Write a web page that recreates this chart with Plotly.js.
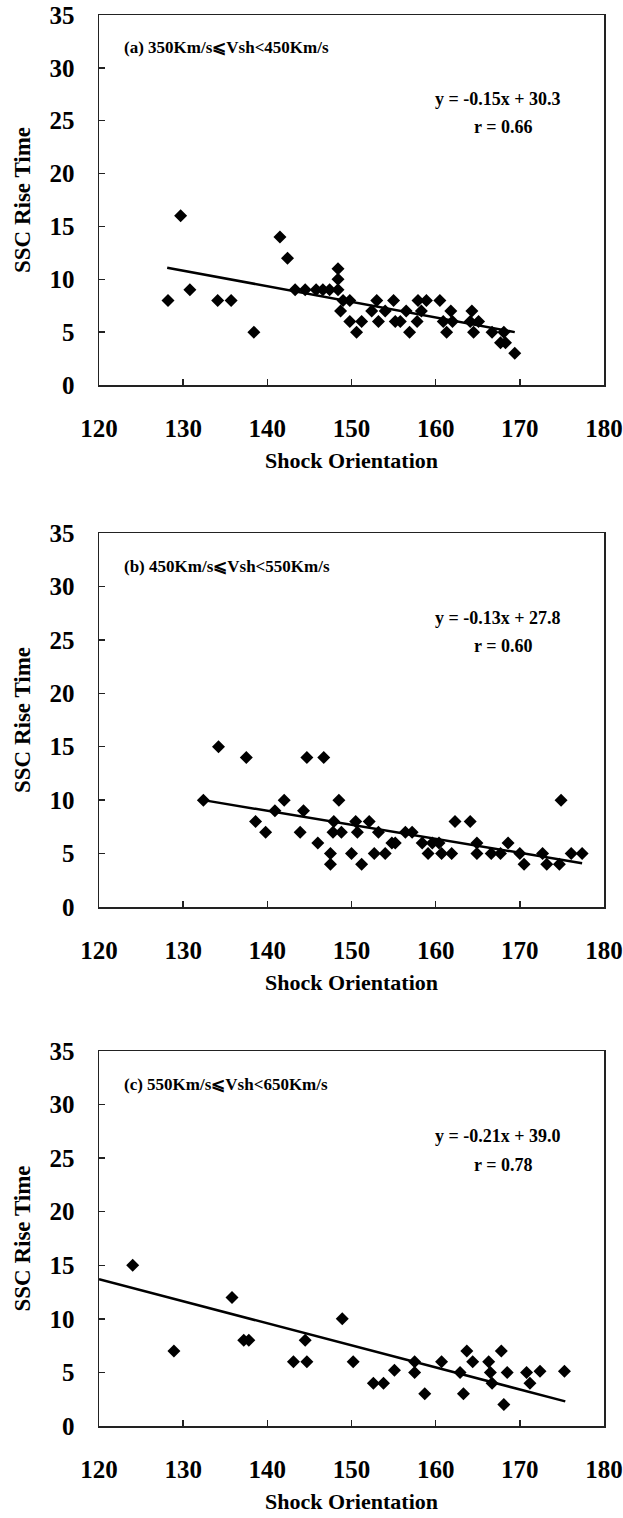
<!DOCTYPE html>
<html>
<head>
<meta charset="utf-8">
<script src="https://cdn.plot.ly/plotly-3.0.1.min.js"></script>
<style>html,body{margin:0;padding:0;background:#fff;}#chart{width:623px;height:1518px;}</style>
</head>
<body>
<div id="chart"></div>
<script>
// Panel (a) 350Km/s ≤ Vsh < 450Km/s
const aX = [128.2,129.7,130.8,134.1,135.7,138.4,141.5,142.4,143.3,144.5,145.8,146.6,147.4,148.4,148.4,148.4,148.7,149.0,149.8,149.8,150.6,151.2,152.4,153.0,153.2,154.0,155.0,155.2,155.8,156.5,156.9,157.8,157.9,158.3,158.9,160.5,160.9,161.3,161.8,162.0,164.1,164.3,164.5,165.1,166.7,167.7,168.1,168.3,169.4];
const aY = [8,16,9,8,8,5,14,12,9,9,9,9,9,11,10,9,7,8,8,6,5,6,7,8,6,7,8,6,6,7,5,6,8,7,8,8,6,5,7,6,6,7,5,6,5,4,5,4,3];
const aLineX = [128.1,169.4];
const aLineY = [11.1,5.0];

// Panel (b) 450Km/s ≤ Vsh < 550Km/s
const bX = [132.4,134.2,137.5,138.6,139.8,140.9,142.0,143.9,144.3,144.7,146.0,146.7,147.5,147.5,147.9,147.8,148.5,148.8,150.0,150.5,150.7,151.2,152.1,152.7,153.2,154.0,154.8,155.2,156.4,157.2,158.4,159.1,159.6,160.4,160.7,161.9,162.3,164.1,164.9,164.9,166.6,167.7,168.6,170.0,170.5,172.7,173.2,174.7,174.9,176.1,177.4];
const bY = [10,15,14,8,7,9,10,7,9,14,6,14,5,4,8,7,10,7,5,8,7,4,8,5,7,5,6,6,7,7,6,5,6,6,5,5,8,8,6,5,5,5,6,5,4,5,4,4,10,5,5];
const bLineX = [132.4,177.4];
const bLineY = [10.0,4.1];

// Panel (c) 550Km/s ≤ Vsh < 650Km/s
const cX = [124.0,128.9,135.8,137.2,137.8,143.1,144.5,144.7,148.9,150.2,152.6,153.8,155.1,157.5,157.5,158.7,160.7,162.9,163.3,163.7,164.4,166.3,166.5,166.7,167.8,168.1,168.5,170.8,171.2,172.4,175.3];
const cY = [15,7,12,8,8,6,8,6,10,6,4,4,5.2,6,5,3,6,5,3,7,6,6,5,4,7,2,5,5,4,5.1,5.1];
const cLineX = [120.0,175.4];
const cLineY = [13.7,2.3];

const panelLabels = ["(a) 350Km/s\u2A7DVsh<450Km/s","(b) 450Km/s\u2A7DVsh<550Km/s","(c) 550Km/s\u2A7DVsh<650Km/s"];
const eqLabels = ["y = -0.15x + 30.3","y = -0.13x + 27.8","y = -0.21x + 39.0"];
const rLabels = ["r = 0.66","r = 0.60","r = 0.78"];
const xTitle = "Shock Orientation";
const yTitle = "SSC Rise Time";

const FONT = "Liberation Serif, Times New Roman, serif";
const panels = [[aX,aY,aLineX,aLineY],[bX,bY,bLineX,bLineY],[cX,cY,cLineX,cLineY]];
const H = 1518;
const boxes = [[15,385],[533,907],[1051,1426]];

const traces = [];
const layout = {
  width:623, height:1518,
  margin:{l:99,r:19,t:0,b:0},
  paper_bgcolor:'#fff', plot_bgcolor:'#fff',
  showlegend:false,
  font:{family:FONT, color:'#000'},
  annotations:[]
};
panels.forEach((p,i)=>{
  const sfx = i===0 ? '' : String(i+1);
  const xa = 'x'+sfx, ya = 'y'+sfx;
  traces.push({x:p[0], y:p[1], type:'scatter', mode:'markers', xaxis:xa, yaxis:ya,
    marker:{symbol:'diamond', size:10, color:'#000'}});
  traces.push({x:p[2], y:p[3], type:'scatter', mode:'lines', xaxis:xa, yaxis:ya,
    line:{color:'#000', width:2.5}});
  const axCommon = {showline:true, mirror:true, linecolor:'#222', linewidth:1.5,
    showgrid:false, zeroline:false, ticks:'inside', ticklen:6, tickcolor:'#222', tickwidth:1.5,
    tickfont:{family:FONT, size:25, weight:'bold', color:'#000'}};
  layout['xaxis'+sfx] = Object.assign({}, axCommon, {
    anchor:ya, domain:[0,1], range:[120,180], dtick:10, tick0:120, ticklabelstandoff:20,
    title:{text:xTitle, font:{family:FONT, size:22, weight:'bold', color:'#000'}, standoff:12}
  });
  layout['yaxis'+sfx] = Object.assign({}, axCommon, {
    anchor:xa, domain:[1-boxes[i][1]/H, 1-boxes[i][0]/H], range:[0,35], dtick:5, tick0:0, ticklabelstandoff:18,
    title:{text:yTitle, font:{family:FONT, size:23, weight:'bold', color:'#000'}, standoff:12}
  });
  layout.annotations.push({xref:xa+' domain', yref:ya+' domain', x:0.046, y:0.911, xanchor:'left', yanchor:'middle',
    text:'<b>'+panelLabels[i]+'</b>', showarrow:false, font:{family:FONT, size:17, color:'#000'}});
  layout.annotations.push({xref:xa+' domain', yref:ya+' domain', x:0.79, y:0.773, xanchor:'center', yanchor:'middle',
    text:'<b>'+eqLabels[i]+'</b>', showarrow:false, font:{family:FONT, size:18, color:'#000'}});
  layout.annotations.push({xref:xa+' domain', yref:ya+' domain', x:0.80, y:0.697, xanchor:'center', yanchor:'middle',
    text:'<b>'+rLabels[i]+'</b>', showarrow:false, font:{family:FONT, size:18, color:'#000'}});
});
Plotly.newPlot('chart', traces, layout, {displayModeBar:false, staticPlot:true});
</script>
</body>
</html>
